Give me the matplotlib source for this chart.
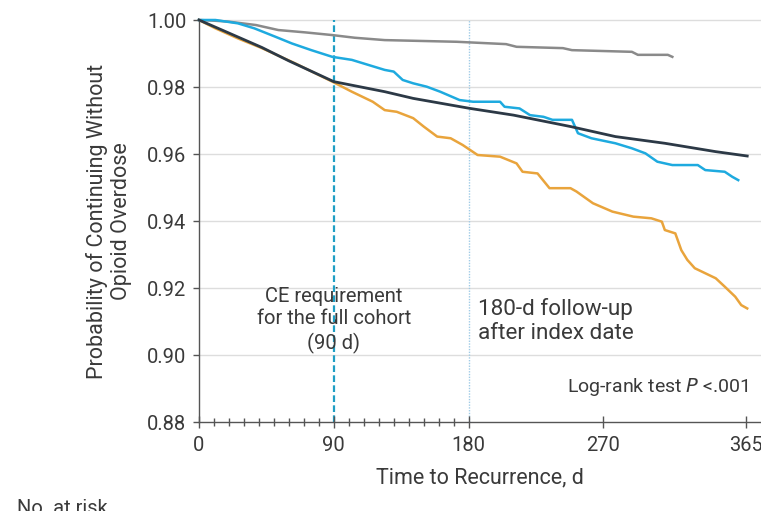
import matplotlib
matplotlib.use("Agg")
import matplotlib.pyplot as plt
from matplotlib.ticker import FixedLocator

# Kaplan-Meier estimates, read per group (day, survival)
gray_days = [0, 10, 20, 38, 53, 71, 89, 104, 124, 172, 205, 212, 243, 249, 289, 293, 313, 316]
gray_surv = [1.0, 0.9998, 0.9995, 0.9985, 0.9970, 0.9963, 0.9955, 0.9947, 0.9940, 0.9935,
             0.9928, 0.9920, 0.9916, 0.9910, 0.9905, 0.9896, 0.9896, 0.9890]

blue_days = [0, 11, 26, 37, 51, 62, 75, 89, 102, 113, 124, 130, 136, 143, 152, 161, 174, 183,
             201, 204, 214, 221, 230, 236, 249, 253, 262, 278, 289, 298, 306, 316, 333, 338,
             351, 356, 360]
blue_surv = [1.0, 1.0, 0.9990, 0.9975, 0.9950, 0.9930, 0.9910, 0.9890, 0.9881, 0.9866, 0.9851,
             0.9846, 0.9821, 0.9811, 0.9801, 0.9786, 0.9761, 0.9756, 0.9756, 0.9741, 0.9736,
             0.9716, 0.9711, 0.9702, 0.9702, 0.9662, 0.9647, 0.9632, 0.9617, 0.9602, 0.9577,
             0.9567, 0.9567, 0.9552, 0.9547, 0.9532, 0.9522]

navy_days = [0, 20, 42, 60, 90, 124, 143, 181, 210, 248, 278, 311, 345, 366]
navy_surv = [1.0, 0.9961, 0.9918, 0.9878, 0.9816, 0.9786, 0.9766, 0.9736, 0.9716, 0.9682,
             0.9652, 0.9632, 0.9607, 0.9594]

orange_days = [0, 11, 26, 42, 64, 89, 102, 116, 124, 132, 143, 150, 159, 168, 176, 186, 201,
               212, 216, 226, 234, 248, 252, 263, 276, 290, 302, 309, 311, 318, 322, 326, 331,
               338, 345, 351, 358, 362, 366]
orange_surv = [1.0, 0.9975, 0.9945, 0.9916, 0.9871, 0.9816, 0.9786, 0.9756, 0.9731, 0.9726,
               0.9707, 0.9682, 0.9652, 0.9647, 0.9627, 0.9597, 0.9592, 0.9572, 0.9547, 0.9542,
               0.9498, 0.9498, 0.9488, 0.9453, 0.9428, 0.9413, 0.9408, 0.9398, 0.9373, 0.9363,
               0.9313, 0.9284, 0.9259, 0.9244, 0.9229, 0.9204, 0.9174, 0.9149, 0.9139]

x_major = [0, 90, 180, 270, 365]
x_minor = [d for d in range(10, 180, 10) if d != 90]
y_ticks = [0.88, 0.90, 0.92, 0.94, 0.96, 0.98, 1.00]

plt.rcParams["font.family"] = ["Roboto", "DejaVu Sans"]
txt_col = "#3a3a3a"

fig = plt.figure(figsize=(7.61, 5.11), dpi=100)
ax = fig.add_axes([199 / 761, 1 - 422 / 511, 1 - 199 / 761, (422 - 20) / 511])

ax.set_xlim(0, 375.2)
ax.set_ylim(0.88, 1.00)

for y in y_ticks[1:]:
    ax.axhline(y, color="#dddddd", lw=1.0, zorder=0, clip_on=False)

ax.axvline(90, color="#1f9ec4", lw=1.6, ls=(0, (3, 1.5)), zorder=1)
ax.axvline(180, color="#9fcbe6", lw=1.0, ls=(0, (1, 1)), zorder=1)

ax.plot(gray_days, gray_surv, color="#8a8a8a", lw=1.8, zorder=3, clip_on=False)
ax.plot(orange_days, orange_surv, color="#e9a43c", lw=1.8, zorder=3, clip_on=False)
ax.plot(blue_days, blue_surv, color="#1eaadf", lw=1.8, zorder=4, clip_on=False)
ax.plot(navy_days, navy_surv, color="#2c3946", lw=2.0, zorder=5, clip_on=False)

for side in ("top", "right"):
    ax.spines[side].set_visible(False)
for side in ("left", "bottom"):
    ax.spines[side].set_color("#555555")
    ax.spines[side].set_linewidth(1.0)

ax.xaxis.set_major_locator(FixedLocator(x_major))
ax.xaxis.set_minor_locator(FixedLocator(x_minor))
ax.set_yticks(y_ticks)
ax.set_yticklabels([f"{v:.2f}" for v in y_ticks])
ax.tick_params(axis="x", which="major", direction="inout", length=8, width=1, color="#555555",
               labelsize=14.5, labelcolor=txt_col, pad=6)
ax.tick_params(axis="x", which="minor", direction="inout", length=6, width=1, color="#555555")
ax.tick_params(axis="y", direction="out", length=4, width=1, color="#555555",
               labelsize=14.5, labelcolor=txt_col, pad=5)

ax.set_xlabel("Time to Recurrence, d", fontsize=15.5, color=txt_col, labelpad=9)
ax.set_ylabel("Probability of Continuing Without\nOpioid Overdose", fontsize=15.5,
              color=txt_col, labelpad=11, linespacing=1.15)

ax.text(90, 0.9104, "CE requirement\nfor the full cohort\n(90 d)", ha="center", va="center",
        fontsize=14.5, color=txt_col, linespacing=1.25)
ax.text(186.3, 0.9102, "180-d follow-up\nafter index date", ha="left", va="center",
        fontsize=16.2, color=txt_col, linespacing=1.2)
ax.text(366.6, 0.8905, "Log-rank test $\\it{P}$ <.001", ha="right", va="center",
        fontsize=14, color=txt_col)

fig.text(17 / 761, 1 - 499 / 511, "No. at risk", ha="left", va="top", fontsize=14.5, color=txt_col)

fig.savefig("out.png", dpi=100)
